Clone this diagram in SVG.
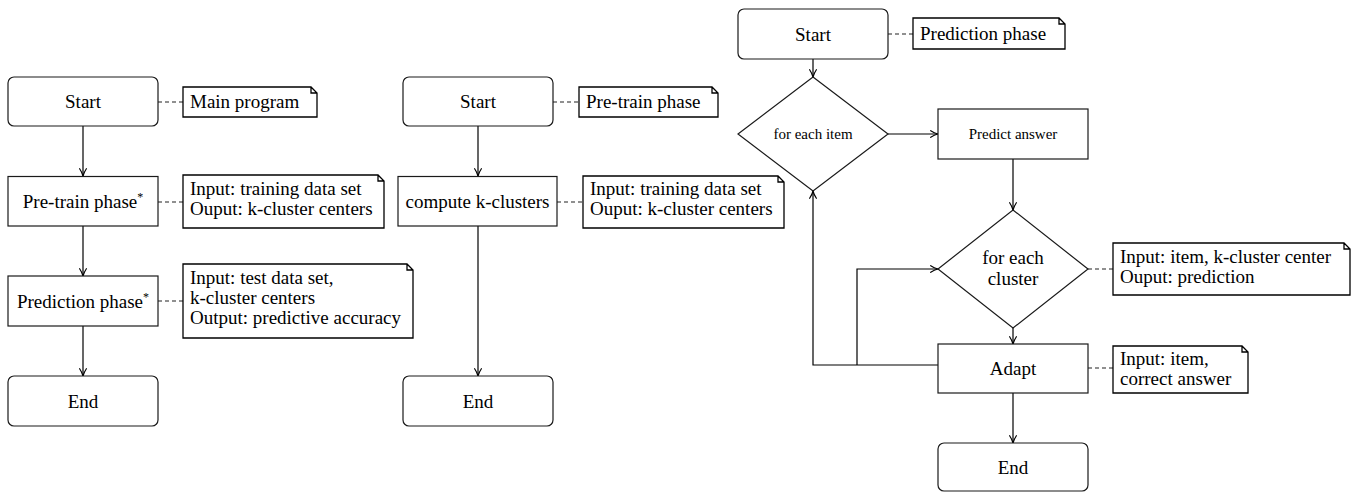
<svg xmlns="http://www.w3.org/2000/svg" width="1353" height="493" viewBox="0 0 1353 493">
<defs>
<marker id="arr" viewBox="0 0 10 10" refX="9.6" refY="5" markerWidth="8" markerHeight="8" markerUnits="userSpaceOnUse" orient="auto">
<path d="M0.5,0.8 Q5,3.8 9.6,5 Q5,6.2 0.5,9.2" fill="none" stroke="#000" stroke-width="1.5" stroke-linecap="round"/>
</marker>
<style>
.box{fill:#fff;stroke:#1a1a1a;stroke-width:1.2}
.note{fill:#fff;stroke:#000;stroke-width:1.3}
.t{font-family:"Liberation Serif","Times New Roman",serif;font-size:19px;fill:#000}
.c{text-anchor:middle}
.s{font-size:15px}
.a{stroke:#000;stroke-width:1.2;fill:none;marker-end:url(#arr)}
.d{stroke:#222;stroke-width:1.2;fill:none;stroke-dasharray:4 3}
</style>
</defs>
<rect width="1353" height="493" fill="#fff"/>

<g id="connectors">
<line class="a" x1="83" y1="126" x2="83" y2="176"/>
<line class="a" x1="83" y1="226" x2="83" y2="276"/>
<line class="a" x1="83" y1="326" x2="83" y2="376"/>
<line class="a" x1="478" y1="126" x2="478" y2="176"/>
<line class="a" x1="478" y1="226" x2="478" y2="376"/>
<line class="a" x1="813" y1="59" x2="813" y2="77"/>
<line class="a" x1="888" y1="134" x2="938" y2="134"/>
<line class="a" x1="1013" y1="159" x2="1013" y2="210"/>
<line class="a" x1="1013" y1="328" x2="1013" y2="344"/>
<line class="a" x1="1013" y1="393" x2="1013" y2="443"/>
<path class="a" d="M938,365 H813 V191"/>
<path class="a" d="M857,365 V269 H938"/>
<line class="d" x1="158" y1="102" x2="183" y2="102"/>
<line class="d" x1="158" y1="202" x2="183" y2="202"/>
<line class="d" x1="158" y1="301" x2="183" y2="301"/>
<line class="d" x1="553" y1="102" x2="579" y2="102"/>
<line class="d" x1="557" y1="202" x2="583" y2="202"/>
<line class="d" x1="888" y1="34" x2="913" y2="34"/>
<line class="d" x1="1088" y1="269" x2="1113" y2="269"/>
<line class="d" x1="1088" y1="368" x2="1113" y2="368"/>
</g>

<g id="start1"><rect class="box" x="8" y="77" width="150" height="49" rx="6"/><text class="t c" x="83" y="108">Start</text></g>
<g id="note-main"><path class="note" d="M183,87 H311 L317,93 V117 H183 Z M311,87 V93 H317"/><text class="t" x="190" y="108">Main program</text></g>
<g id="pretrain1"><rect class="box" x="8" y="176.5" width="150" height="49.5"/><text class="t c" x="83" y="208">Pre-train phase<tspan font-size="12" dy="-7">*</tspan></text></g>
<g id="note-pretrain1"><path class="note" d="M183,175 H378 L384,181 V228 H183 Z M378,175 V181 H384"/><text class="t" x="190" y="195">Input: training data set</text><text class="t" x="190" y="215">Ouput: k-cluster centers</text></g>
<g id="prediction1"><rect class="box" x="8" y="276" width="150" height="50"/><text class="t c" x="83" y="307.5">Prediction phase<tspan font-size="12" dy="-7">*</tspan></text></g>
<g id="note-prediction1"><path class="note" d="M183,264 H407 L413,270 V338 H183 Z M407,264 V270 H413"/><text class="t" x="190" y="284">Input: test data set,</text><text class="t" x="190" y="304">k-cluster centers</text><text class="t" x="190" y="324">Output: predictive accuracy</text></g>
<g id="end1"><rect class="box" x="8" y="376" width="150" height="50" rx="6"/><text class="t c" x="83" y="407.5">End</text></g>

<g id="start2"><rect class="box" x="403" y="77" width="150" height="49" rx="6"/><text class="t c" x="478" y="108">Start</text></g>
<g id="note-pretrain2"><path class="note" d="M579,87 H712 L718,93 V117 H579 Z M712,87 V93 H718"/><text class="t" x="586" y="108">Pre-train phase</text></g>
<g id="compute"><rect class="box" x="398" y="176.5" width="159" height="49.5"/><text class="t c" x="477.5" y="208">compute k-clusters</text></g>
<g id="note-compute"><path class="note" d="M583,176 H778 L784,182 V228 H583 Z M778,176 V182 H784"/><text class="t" x="590" y="195">Input: training data set</text><text class="t" x="590" y="215">Ouput: k-cluster centers</text></g>
<g id="end2"><rect class="box" x="403" y="376" width="150" height="50" rx="6"/><text class="t c" x="478" y="407.5">End</text></g>

<g id="start3"><rect class="box" x="738" y="9" width="150" height="50" rx="6"/><text class="t c" x="813" y="40.5">Start</text></g>
<g id="note-prediction3"><path class="note" d="M913,18 H1059 L1065,24 V49 H913 Z M1059,18 V24 H1065"/><text class="t" x="920" y="39.5">Prediction phase</text></g>
<g id="foreachitem"><polygon class="box" points="813,77 888,134 813,191 738,134"/><text class="t c s" x="813" y="139">for each item</text></g>
<g id="predict"><rect class="box" x="938" y="109" width="150" height="50"/><text class="t c s" x="1013" y="139">Predict answer</text></g>
<g id="foreachcluster"><polygon class="box" points="1013,210 1088,269 1013,328 938,269"/><text class="t c" x="1013" y="264">for each</text><text class="t c" x="1013" y="285">cluster</text></g>
<g id="note-cluster"><path class="note" d="M1113,243 H1344 L1350,249 V295 H1113 Z M1344,243 V249 H1350"/><text class="t" x="1120" y="263">Input: item, k-cluster center</text><text class="t" x="1120" y="283">Ouput: prediction</text></g>
<g id="adapt"><rect class="box" x="938" y="344" width="150" height="49"/><text class="t c" x="1013" y="374.5">Adapt</text></g>
<g id="note-adapt"><path class="note" d="M1113,346 H1242 L1248,352 V393 H1113 Z M1242,346 V352 H1248"/><text class="t" x="1120" y="365">Input: item,</text><text class="t" x="1120" y="385">correct answer</text></g>
<g id="end3"><rect class="box" x="938" y="443" width="150" height="48" rx="6"/><text class="t c" x="1013" y="473.5">End</text></g>
</svg>
